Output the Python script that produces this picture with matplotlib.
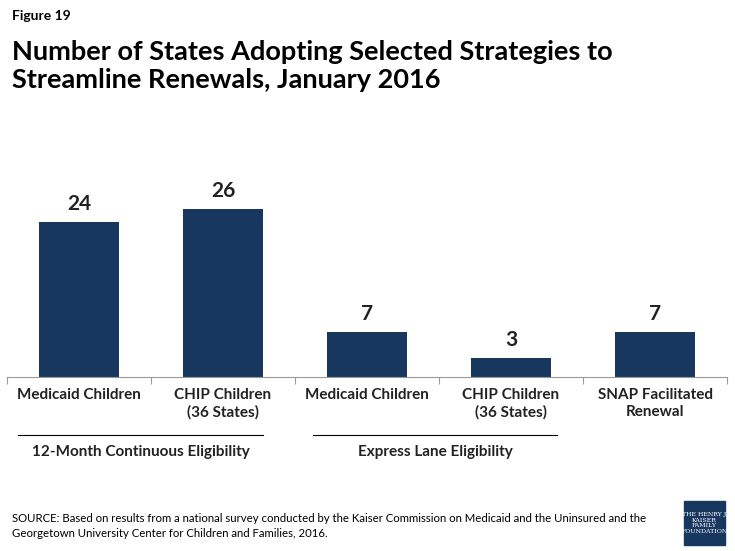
import matplotlib
matplotlib.use("Agg")
import matplotlib.pyplot as plt
from matplotlib.patches import Rectangle

plt.rcParams["font.family"] = "Lato"

categories = ["Medicaid Children", "CHIP Children\n(36 States)", "Medicaid Children",
              "CHIP Children\n(36 States)", "SNAP Facilitated\nRenewal"]
values = [24, 26, 7, 3, 7]
groups = ["12-Month Continuous Eligibility", "Express Lane Eligibility"]

W, H = 735, 551
fig = plt.figure(figsize=(W / 100, H / 100), dpi=100)
navy = "#17375E"

ax = fig.add_axes([7 / W, 1 - 377 / H, 720 / W, 194 / H])
x = range(len(values))
ax.bar(x, values, width=0.56, color=navy)
for i, v in zip(x, values):
    ax.text(i, v + 1.2, str(v), ha="center", va="bottom", fontsize=15, fontweight="bold", color="#222222")
ax.set_xlim(-0.5, 4.5)
ax.set_ylim(0, 30)
ax.set_yticks([])
ax.set_xticks([i + 0.5 for i in range(-1, 5)])
ax.set_xticklabels([])
ax.tick_params(axis="x", length=5, color="#999999")
for s in ["top", "right", "left"]:
    ax.spines[s].set_visible(False)
ax.spines["bottom"].set_color("#999999")

# category labels
for i, c in enumerate(categories):
    px = 7 + 144 * (i + 0.5)
    fig.text(px / W, 1 - 388 / H, c, ha="center", va="top", fontsize=11, fontweight="bold",
             color="#222222", linespacing=1.3)

# group lines and labels
for (x0, x1), g in zip([(18, 263), (313, 557)], groups):
    fig.add_artist(plt.Line2D([x0 / W, x1 / W], [1 - 435 / H] * 2, color="black", lw=0.8))
    fig.text((x0 + x1) / 2 / W, 1 - 452 / H, g, ha="center", va="center", fontsize=11,
             fontweight="bold", color="#222222")

fig.text(12 / W, 1 - 16 / H, "Figure 19", fontsize=10, fontweight="bold", va="center")
fig.text(12 / W, 1 - 66 / H, "Number of States Adopting Selected Strategies to\nStreamline Renewals, January 2016",
         fontsize=19.5, fontweight="bold", va="center", linespacing=1.25)
fig.text(12 / W, 1 - 526 / H,
         "SOURCE: Based on results from a national survey conducted by the Kaiser Commission on Medicaid and the Uninsured and the\n"
         "Georgetown University Center for Children and Families, 2016.",
         fontsize=8.2, va="center", linespacing=1.4)

# logo
fig.add_artist(Rectangle((684 / W, 1 - 545 / H), 41 / W, 44 / H, color=navy))
fig.text(704.5 / W, 1 - 523 / H, "THE HENRY J.\nKAISER\nFAMILY\nFOUNDATION", ha="center", va="center",
         fontsize=4.5, color="white", family="DejaVu Serif", linespacing=1.1)

fig.savefig("out.png", dpi=100)
